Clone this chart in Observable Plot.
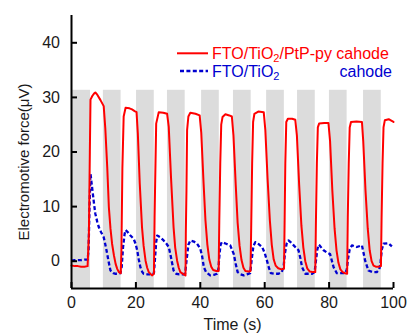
<!DOCTYPE html>
<html><head><meta charset="utf-8">
<script src="https://cdn.jsdelivr.net/npm/d3@7"></script>
<script src="https://cdn.jsdelivr.net/npm/@observablehq/plot@0.6"></script>
<style>body{margin:0;background:#fff}#chart svg{display:block}</style>
</head><body><div id="chart"></div><script>
// Gray illumination-off bands (s)
const bandStart = [0, 9.9, 20.2, 29.8, 40.4, 50.3, 60.6, 70.2, 80.1, 90.7];
const bandEnd   = [5.9, 15.4, 25.7, 35.3, 45.9, 55.8, 66.1, 75.7, 85.6, 96.2];
const bandTop = 31.3;
const xTicks = [0, 20, 40, 60, 80, 100];
const yTicks = [0, 10, 20, 30, 40];

// FTO/TiO2/PtP-py cathode  [time (s), EMF (µV)]
const redPoints = [
[0,-0.8],[1,-0.9],[2,-0.9],[3,-1.0],[4,-1.0],[5.0,-0.9],[5.4,5],[5.7,20],[5.9,29.6],[6.5,30.3],[7.0,30.7],[7.4,30.9],[8.0,30.5],[9.0,29.5],[10.0,28.4],
[10.5,24.3],[11.1,17.2],[11.6,9.9],[12.1,6.0],[12.6,3.2],[13.2,1.0],[13.7,-0.5],[14.2,-1.4],[14.7,-2.0],[15.3,-2.2],
[15.5,2],[15.8,17],[16.2,26.5],[16.8,28.1],[18.0,28.0],[18.8,27.8],[19.6,27.5],[20.2,27.3],[20.6,23.4],[21.2,14.2],[21.9,6.2],[22.4,2.8],[23.0,0.1],[23.5,-1.2],[24.0,-2.0],[25.0,-2.6],[25.6,-2.3],
[25.8,8],[26.0,15],[26.3,25.2],[27.1,27.3],[28.5,27.2],[29.7,27.0],[30.2,24.6],[30.9,15.4],[31.7,6.2],[32.2,2.5],[32.8,0.1],[33.3,-1.2],[33.8,-2.0],[35.1,-2.5],[35.4,-2.6],
[35.5,5],[35.7,13],[35.9,24],[36.3,26.5],[36.9,27.2],[38.5,27.0],[39.8,26.7],[40.3,23.5],[41.0,14.5],[41.6,7.5],[42.2,3.0],[42.8,0.3],[43.4,-1.0],[44.0,-1.6],[45.0,-1.8],[45.7,-1.8],
[45.9,7.5],[46.2,18],[46.5,25.0],[46.9,26.4],[47.8,26.9],[49.0,26.7],[49.8,26.5],[50.3,23],[51.0,14],[51.6,7],[52.2,2.8],[52.8,0.2],[53.4,-1.2],[54.0,-1.8],[55.0,-1.9],[55.6,-1.8],
[55.8,6],[56.1,18],[56.4,25.5],[56.8,27.0],[58.0,27.4],[59.7,27.3],[60.2,24],[60.9,15],[61.6,7.5],[62.2,3.0],[62.8,0.3],[63.4,-0.8],[64.2,-1.3],[65.2,-1.5],[66.0,-1.4],
[66.2,8],[66.4,18],[66.7,25.5],[67.2,26.1],[68.5,26.1],[69.5,25.9],[70.0,23],[70.7,14],[71.4,6.5],[72.0,2.5],[72.6,0],[73.2,-1.3],[74.0,-1.9],[75.0,-2.0],[75.7,-2.0],
[75.9,7],[76.2,18],[76.5,24.5],[76.9,25.2],[78.5,25.3],[79.8,25.3],[80.3,22],[81.0,13],[81.7,6],[82.3,2],[82.9,-0.3],[83.5,-1.5],[84.2,-2.0],[85.0,-2.2],[85.6,-2.3],
[85.8,8],[86.1,18],[86.4,24.5],[86.8,25.5],[88.5,25.6],[90.2,25.5],[90.6,22],[91.3,13],[92.0,6],[92.6,2],[93.2,0],[93.8,-0.8],[94.5,-1.0],[95.5,-1.0],[96.1,-0.9],
[96.3,8],[96.6,18],[96.9,24.5],[97.3,25.8],[98.5,26.0],[100,25.5]
];

// FTO/TiO2 cathode  [time (s), EMF (µV)]
const bluePoints = [
[0,0.1],[1,0.2],[2,0.2],[3,0.2],[4,0.3],[5.0,0.3],[5.3,2],[5.6,10],[5.9,16.0],[6.2,14.5],[6.5,13.0],[7.0,10.5],[7.4,8.7],[8.0,7.2],[8.5,6.2],[9.2,5.3],[10.0,4.4],
[10.6,2.8],[11.1,1.3],[11.6,-0.3],[12.1,-1.7],[13.0,-2.2],[13.7,-2.3],[14.5,-2.3],[15.2,-2.2],[15.6,-1.0],[16.0,2.5],[16.5,5.0],[16.8,5.7],[17.5,5.3],[18.3,4.7],[19.3,4.1],[19.9,3.2],
[20.4,2.0],[20.9,0.3],[21.4,-1.1],[22.0,-2.0],[22.4,-2.3],[23.5,-2.4],[25.0,-2.4],[25.6,-2.2],[26.0,1.0],[26.3,3.5],[26.6,4.7],[27.5,4.4],[28.6,3.8],[29.5,3.2],[30.2,2.6],
[30.8,1.0],[31.3,-0.5],[31.7,-1.7],[32.5,-2.3],[33.5,-2.4],[34.8,-2.4],[35.3,-2.2],[35.8,0.5],[36.3,3.0],[36.9,3.8],[38.0,3.6],[39.0,3.2],[40.0,2.3],
[40.6,0.8],[41.1,-1.1],[41.8,-2.0],[43.1,-2.6],[44.2,-2.5],[45.2,-2.3],[45.6,-1.5],[46.0,1.5],[46.3,3.0],[46.7,3.5],[48.0,3.2],[49.3,2.9],[50.4,1.3],
[51.0,-0.5],[51.6,-2.0],[52.5,-2.4],[53.5,-2.6],[54.5,-2.4],[55.5,-2.2],[56.0,0.5],[56.5,2.8],[57.1,3.5],[58.2,3.1],[59.2,2.6],[60.0,1.5],
[60.7,0.1],[61.3,-1.2],[61.9,-2.2],[63.0,-2.3],[64.3,-2.3],[65.3,-2.0],[65.9,-0.8],[66.3,1.5],[66.8,3.2],[67.4,3.8],[68.2,3.4],[69.0,2.9],[70.5,2.0],
[71.1,0.5],[71.6,-1.1],[72.6,-2.3],[74.7,-2.3],[75.5,-2.0],[75.9,0],[76.3,2.0],[76.7,3.0],[77.0,2.9],[78.3,2.0],[79.3,1.6],[80.3,1.3],
[80.9,0],[81.4,-1.1],[82.4,-2.2],[85.0,-2.2],[85.5,-1.5],[85.9,0.5],[86.4,2.2],[87.1,2.9],[88.6,2.6],[90.2,2.9],
[90.7,1.5],[91.2,0.1],[92.2,-1.7],[93.5,-2.0],[94.8,-2.0],[95.6,-1.5],[96.0,0],[96.4,2.2],[96.9,3.2],[98.4,3.3],[99.5,2.7]
];

const bands = bandStart.map((s, i) => ({start: s, end: bandEnd[i]}));
const red = redPoints.map(([t, v]) => ({t, v}));
const blue = bluePoints.map(([t, v]) => ({t, v}));

const RED = "#ff0000", BLUE = "#0000d0", INK = "#1a1a1a";
const DASH = "4,2.4";

const chart = Plot.plot({
  width: 408, height: 334,
  marginLeft: 71, marginRight: 15, marginTop: 15, marginBottom: 46,
  style: {fontFamily: "'Liberation Sans', Arial, sans-serif", fontSize: "16px", color: INK, background: "#fff"},
  x: {domain: [0, 100]},
  y: {domain: [-5, 45]},
  marks: [
    Plot.rect(bands, {x1: "start", x2: "end", y1: -5, y2: bandTop, fill: "#dcdcdc"}),
    Plot.line(blue, {x: "t", y: "v", stroke: BLUE, strokeWidth: 2.3, strokeDasharray: DASH, strokeLinecap: "butt"}),
    Plot.line(red, {x: "t", y: "v", stroke: RED, strokeWidth: 2}),
    Plot.ruleX([0], {stroke: "#000", strokeWidth: 2}),
    Plot.ruleY([-5], {stroke: "#000", strokeWidth: 2}),
    Plot.tickX(xTicks, {x: d => d, stroke: "#000", strokeWidth: 2, insetTop: 267}),
    Plot.tickY(yTicks, {y: d => d, stroke: "#000", strokeWidth: 2, insetRight: 316}),
    Plot.axisX(xTicks, {tickSize: 0, tickPadding: 8, label: null, fontSize: 16, fill: INK}),
    Plot.axisY(yTicks, {tickSize: 0, tickPadding: 11.5, label: null, fontSize: 16, fill: INK}),
    Plot.text(["Electromotive force(\u03bcV)"], {frameAnchor: "left", textAnchor: "middle", rotate: -90, dx: -47, dy: 10, fontSize: 15, fill: INK}),
    Plot.text(["Time (s)"], {frameAnchor: "bottom", textAnchor: "middle", lineAnchor: "top", dy: 30, fontSize: 16, fill: INK})
  ]
});
document.getElementById("chart").appendChild(chart);

// Legend
const svg = d3.select(chart);
const lg = svg.append("g").attr("font-family", "'Liberation Sans', Arial, sans-serif").attr("font-size", 16).attr("text-anchor", "start");
lg.append("line").attr("x1", 177).attr("x2", 208).attr("y1", 53.3).attr("y2", 53.3).attr("stroke", RED).attr("stroke-width", 2);
lg.append("line").attr("x1", 180).attr("x2", 208).attr("y1", 71).attr("y2", 71).attr("stroke", BLUE).attr("stroke-width", 2.3).attr("stroke-dasharray", DASH);
const t1 = lg.append("text").attr("x", 212).attr("y", 58.5).attr("fill", RED);
t1.append("tspan").text("FTO/TiO");
t1.append("tspan").attr("font-size", 11).attr("dy", 3).text("2");
t1.append("tspan").attr("dy", -3).text("/PtP-py cahode");
const t2 = lg.append("text").attr("x", 212).attr("y", 76.8).attr("fill", BLUE);
t2.append("tspan").text("FTO/TiO");
t2.append("tspan").attr("font-size", 11).attr("dy", 3).text("2");
lg.append("text").attr("x", 392).attr("y", 76.8).attr("text-anchor", "end").attr("fill", BLUE).text("cahode");
</script></body></html>
